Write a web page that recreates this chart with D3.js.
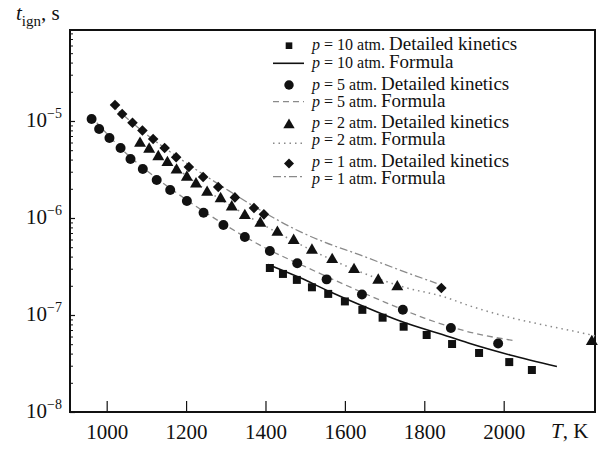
<!DOCTYPE html>
<html><head><meta charset="utf-8">
<script src="https://cdn.jsdelivr.net/npm/d3@7"></script>
<style>body{margin:0;background:#fff} svg{font-family:"Liberation Serif","Times New Roman",serif;}</style>
</head><body><svg id="c" width="598" height="450"></svg>
<script>
// ---- data ----
const xTickValues = [1000, 1200, 1400, 1600, 1800, 2000];
const yTickExponents = [-8, -7, -6, -5];

// p = 10 atm
const T_p10_kin = [1411,1444,1479,1517,1558,1600,1644,1695,1748,1806,1870,1938,2014,2071];
const t_p10_kin = [3.05e-7,2.65e-7,2.30e-7,1.93e-7,1.65e-7,1.38e-7,1.13e-7,9.38e-8,7.57e-8,6.22e-8,5.02e-8,4.06e-8,3.27e-8,2.71e-8];
const T_p10_for = [1406,1486,1561,1645,1739,1865,1915,2016,2134];
const t_p10_for = [3.32e-7,2.43e-7,1.75e-7,1.24e-7,8.67e-8,5.93e-8,5.08e-8,3.87e-8,2.94e-8];

// p = 5 atm
const T_p5_kin = [962,981,1007,1035,1060,1091,1126,1160,1202,1244,1294,1348,1411,1480,1554,1643,1746,1867,1986];
const t_p5_kin = [1.05e-5,8.27e-6,6.68e-6,5.27e-6,4.06e-6,3.20e-6,2.46e-6,1.94e-6,1.50e-6,1.13e-6,8.47e-7,6.37e-7,4.57e-7,3.41e-7,2.33e-7,1.63e-7,1.13e-7,7.34e-8,5.08e-8];
const T_p5_for = [975,1050,1100,1200,1300,1400,1500,1600,1700,1800,1900,2030];
const t_p5_for = [9.6e-6,4.6e-6,3.1e-6,1.55e-6,8.4e-7,4.9e-7,3.15e-7,2.05e-7,1.36e-7,9.3e-8,6.9e-8,5.4e-8];

// p = 2 atm
const T_p2_kin = [1084,1107,1130,1153,1176,1202,1225,1253,1287,1315,1348,1387,1430,1471,1517,1568,1623,1684,1732,2222];
const t_p2_kin = [5.89e-6,5.11e-6,4.28e-6,3.72e-6,3.12e-6,2.63e-6,2.24e-6,1.84e-6,1.58e-6,1.30e-6,1.06e-6,8.82e-7,7.12e-7,5.86e-7,4.65e-7,3.72e-7,2.94e-7,2.28e-7,1.95e-7,5.31e-8];
const T_p2_for = [1080,1150,1250,1350,1450,1550,1638,1750,1847,1915,2000,2100,2200,2230];
const t_p2_for = [6.2e-6,3.9e-6,1.95e-6,1.08e-6,6.4e-7,4.0e-7,2.79e-7,1.93e-7,1.55e-7,1.24e-7,9.8e-8,7.9e-8,6.5e-8,6.1e-8];

// p = 1 atm
const T_p1_kin = [1021,1039,1065,1090,1117,1146,1175,1207,1243,1281,1323,1371,1396,1843];
const t_p1_kin = [1.46e-5,1.18e-5,9.6e-6,7.97e-6,6.52e-6,5.27e-6,4.23e-6,3.36e-6,2.65e-6,2.09e-6,1.63e-6,1.27e-6,1.09e-6,1.90e-7];
const T_p1_for = [1010,1100,1200,1300,1400,1487,1550,1638,1720,1831];
const t_p1_for = [1.5e-5,7.3e-6,3.7e-6,2.0e-6,1.12e-6,7.23e-7,5.6e-7,4.16e-7,3.1e-7,2.12e-7];

const pressures = ["10", "5", "2", "1"];
const kinLabel = "Detailed kinetics";
const forLabel = "Formula";

// ---- chart ----
const svg = d3.select("#c");
const W = 598, H = 450;
const m = {l:70, r:3, t:30, b:38};
const x = d3.scaleLinear().domain([907.6, 2230]).range([m.l, W - m.r]);
const y = d3.scaleLog().domain([1e-8, Math.pow(10, -4.062)]).range([412, m.t]);

const ink = "#111";
const grey = "#8a8a8a";

// frame
svg.append("rect").attr("x", m.l).attr("y", m.t)
  .attr("width", W - m.r - m.l).attr("height", 412 - m.t)
  .attr("fill", "none").attr("stroke", ink).attr("stroke-width", 2);

// x axis: inward ticks
const xAxis = d3.axisBottom(x).tickValues(xTickValues).tickSizeInner(-11).tickSizeOuter(0).tickFormat(d3.format("d"));
const gx = svg.append("g").attr("transform", "translate(0,412)").call(xAxis);
gx.select(".domain").remove();
gx.selectAll(".tick line").attr("stroke", ink).attr("stroke-width", 1.2);
gx.selectAll(".tick text").attr("font-size", 21).attr("fill", ink)
  .attr("font-family", "Liberation Serif").attr("y", 12).attr("dy", "0.71em");

// y axis: major and minor inward ticks
const minorVals = [];
for (let e = -8; e <= -5; e++) for (let k = 2; k <= 9; k++) { const v = k * Math.pow(10, e); if (v <= y.domain()[1]) minorVals.push(v); }
const gyMinor = svg.append("g").attr("transform", `translate(${m.l},0)`)
  .call(d3.axisLeft(y).tickValues(minorVals).tickSizeInner(-3).tickSizeOuter(0).tickFormat(""));
gyMinor.select(".domain").remove();
gyMinor.selectAll(".tick line").attr("stroke", ink).attr("stroke-width", 1);

const majorVals = yTickExponents.map(e => Math.pow(10, e));
const gy = svg.append("g").attr("transform", `translate(${m.l},0)`)
  .call(d3.axisLeft(y).tickValues(majorVals).tickSizeInner(-5).tickSizeOuter(0).tickFormat(""));
gy.select(".domain").remove();
gy.selectAll(".tick line").attr("stroke", ink).attr("stroke-width", 1.2);

// y tick labels 10^n
yTickExponents.forEach(e => {
  const t = svg.append("text").attr("x", 62).attr("y", y(Math.pow(10, e)) + 6)
    .attr("text-anchor", "end").attr("fill", ink);
  t.append("tspan").attr("font-size", 21).text("10");
  t.append("tspan").attr("font-size", 14).attr("dy", -9).text("\u2212" + Math.abs(e));
});

// axis titles
const yt = svg.append("text").attr("x", 16).attr("y", 20).attr("fill", ink);
yt.append("tspan").attr("font-style", "italic").attr("font-size", 21).text("t");
yt.append("tspan").attr("font-size", 15).attr("dy", 6).text("ign");
yt.append("tspan").attr("font-size", 21).attr("dy", -6).text(", s");

const xt = svg.append("text").attr("x", 551).attr("y", 438).attr("fill", ink);
xt.append("tspan").attr("font-style", "italic").attr("font-size", 21).text("T");
xt.append("tspan").attr("font-size", 21).text(", K");

// formula lines
const line = d3.line().x(d => x(d[0])).y(d => y(d[1])).curve(d3.curveMonotoneX);
const formulaSeries = [
  {T: T_p10_for, t: t_p10_for, stroke: ink, dash: null, w: 1.6},
  {T: T_p5_for, t: t_p5_for, stroke: grey, dash: "6,4", w: 1.3},
  {T: T_p2_for, t: t_p2_for, stroke: grey, dash: "1.5,4", w: 1.5},
  {T: T_p1_for, t: t_p1_for, stroke: grey, dash: "8,3,2,3", w: 1.3}
];
formulaSeries.forEach(s => {
  svg.append("path").datum(s.T.map((T, i) => [T, s.t[i]]))
    .attr("d", line).attr("fill", "none").attr("stroke", s.stroke)
    .attr("stroke-width", s.w).attr("stroke-dasharray", s.dash);
});

// kinetics markers
const kinSeries = [
  {T: T_p10_kin, t: t_p10_kin, sym: d3.symbolSquare, size: 64, rot: 0},
  {T: T_p5_kin, t: t_p5_kin, sym: d3.symbolCircle, size: 78, rot: 0},
  {T: T_p2_kin, t: t_p2_kin, sym: d3.symbolTriangle, size: 62, rot: 0},
  {T: T_p1_kin, t: t_p1_kin, sym: d3.symbolSquare, size: 56, rot: 45}
];
kinSeries.forEach(s => {
  svg.append("g").selectAll("path").data(s.T.map((T, i) => [T, s.t[i]])).join("path")
    .attr("transform", d => `translate(${x(d[0])},${y(d[1])}) rotate(${s.rot})`)
    .attr("d", d3.symbol(s.sym, s.size)).attr("fill", ink);
});

// legend
const legMarkerY = [45.7, 85, 125, 163.5];
const legLineY = [63.3, 101.7, 143.3, 176.7];
const legKinBase = [50, 90, 128, 167];
const legForBase = [68, 107, 145, 184];
const legSizes = [44, 70, 56, 50];
pressures.forEach((p, i) => {
  svg.append("path").attr("transform", `translate(289,${legMarkerY[i]}) rotate(${kinSeries[i].rot})`)
    .attr("d", d3.symbol(kinSeries[i].sym, legSizes[i])).attr("fill", ink);
  const s = formulaSeries[i];
  svg.append("line").attr("x1", 273).attr("x2", 304).attr("y1", legLineY[i]).attr("y2", legLineY[i])
    .attr("stroke", s.stroke).attr("stroke-width", s.w).attr("stroke-dasharray", s.dash);
  [[legKinBase[i], kinLabel], [legForBase[i], forLabel]].forEach(([yy, lab]) => {
    const t = svg.append("text").attr("x", 312).attr("y", yy).attr("fill", ink);
    t.append("tspan").attr("font-style", "italic").attr("font-size", 16).text("p");
    t.append("tspan").attr("font-size", 16).text(` = ${p} atm. `);
    t.append("tspan").attr("font-size", 19).text(lab);
  });
});
</script></body></html>
